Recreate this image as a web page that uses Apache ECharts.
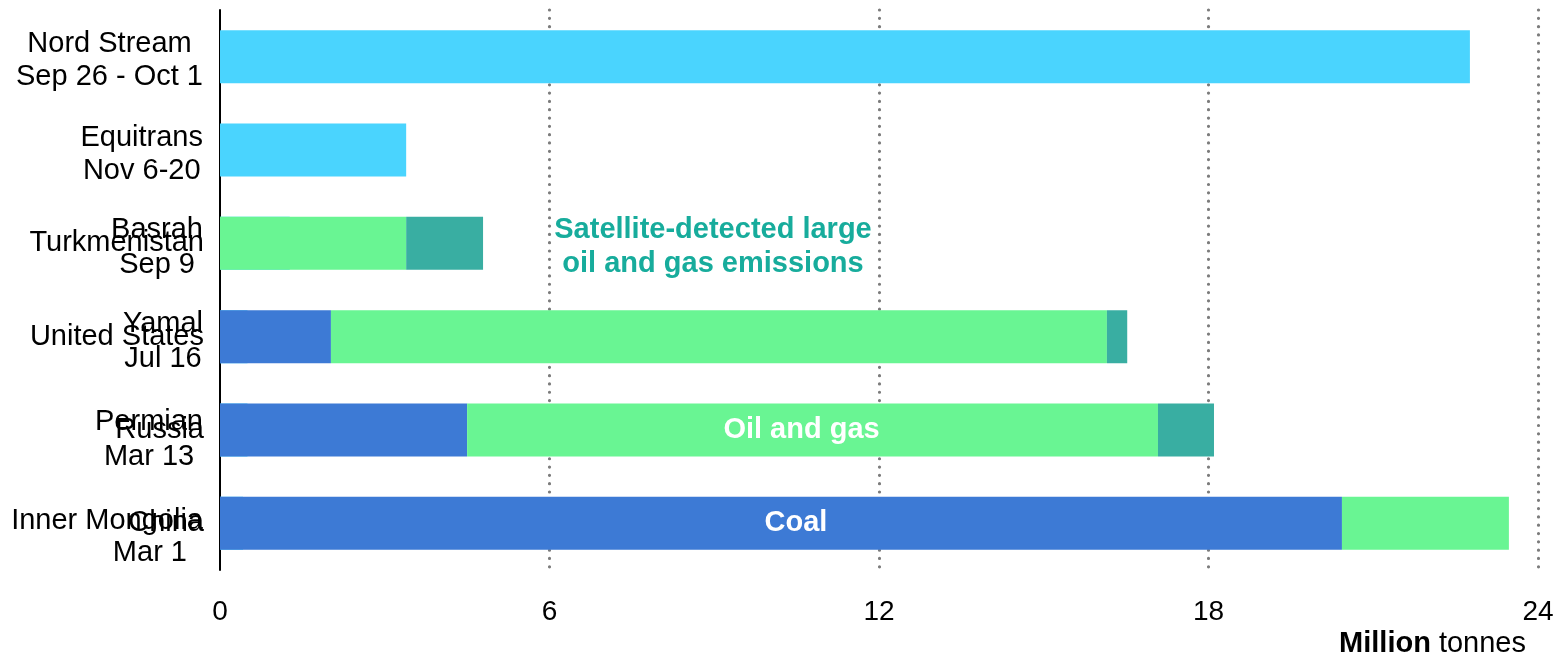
<!DOCTYPE html>
<html>
<head>
<meta charset="utf-8">
<script src="https://cdn.jsdelivr.net/npm/echarts@6/dist/echarts.min.js"></script>
<style>
  html, body { margin: 0; padding: 0; background: #fff; }
  #chart { width: 1559px; height: 656px; }
</style>
</head>
<body>
<div id="chart"></div>
<script>
// Large emission events (million tonnes)
const siteNames = ['Nord Stream', 'Equitrans', 'Basrah', 'Yamal', 'Permian', 'Inner Mongolia'];
const siteDates = ['Sep 26 - Oct 1', 'Nov 6-20', 'Sep 9', 'Jul 16', 'Mar 13', 'Mar 1'];
const siteEmissions = [22.76, 3.39, 1.27, 0.5, 0.5, 0.42];

// Country totals by source (million tonnes), same rows
const countries = ['', '', 'Turkmenistan', 'United States', 'Russia', 'China'];
const coal = [null, null, null, 2.02, 4.5, 20.43];
const oilAndGas = [null, null, 3.39, 14.13, 12.58, 3.04];
const other = [null, null, 1.4, 0.37, 1.02, null];

const xTicks = [0, 6, 12, 18, 24];

const FONT = '"Liberation Sans", Arial, Helvetica, sans-serif';
const COLORS = {
  site: '#4AD4FE',
  coal: '#3D7AD5',
  oilGas: '#69F593',
  other: '#39AEA2',
  note: '#17AC9C'
};

// Line heights of the two lines of each site label (sets spacing and vertical placement)
const siteLineTop = [40.5, 42, 44, 45, 54, 60];
const siteLineBottom = [25.5, 24, 26, 25, 16, 4];
const siteRich = {};
siteNames.forEach((n, i) => {
  siteRich['n' + i] = { align: 'center', lineHeight: siteLineTop[i] };
  siteRich['d' + i] = i === siteNames.length - 1
    ? { align: 'right', padding: [0, 16, 0, 0], lineHeight: siteLineBottom[i] }
    : { align: 'center', lineHeight: siteLineBottom[i] };
});

function withLabel(values, row, text, offset) {
  return values.map((v, i) => i === row
    ? { value: v, label: { show: true, position: 'inside', formatter: text, offset: offset,
        color: '#fff', fontWeight: 'bold', fontSize: 29, fontFamily: FONT } }
    : v);
}

const chart = echarts.init(document.getElementById('chart'), null, { renderer: 'canvas' });

chart.setOption({
  animation: false,
  backgroundColor: '#fff',
  textStyle: { fontFamily: FONT },
  grid: { left: 220, right: 21, top: 10, bottom: 86, containLabel: false },
  xAxis: {
    type: 'value',
    min: xTicks[0],
    max: xTicks[xTicks.length - 1],
    interval: xTicks[1] - xTicks[0],
    axisLine: { show: false },
    axisTick: { show: false },
    axisLabel: { color: '#000', fontSize: 28, fontFamily: FONT, margin: 28 },
    splitLine: {
      show: true,
      showMinLine: false,
      lineStyle: { color: '#7c7c7c', width: 3.2, type: [0.01, 8.3], cap: 'round' }
    }
  },
  yAxis: [
    {
      type: 'category',
      inverse: true,
      data: siteNames,
      axisLine: { show: true, lineStyle: { color: '#000', width: 2 } },
      axisTick: { show: false },
      splitLine: { show: false },
      axisLabel: {
        color: '#000', fontSize: 29, fontFamily: FONT, margin: 17, align: 'right',
        formatter: (v, i) => '{n' + i + '|' + siteNames[i] + '}\n{d' + i + '|' + siteDates[i] + '}',
        rich: siteRich
      }
    },
    {
      type: 'category',
      inverse: true,
      position: 'left',
      data: siteNames,
      axisLine: { show: false },
      axisTick: { show: false },
      splitLine: { show: false },
      axisLabel: {
        color: '#000', fontSize: 29, fontFamily: FONT, margin: 16, align: 'right',
        padding: [0, 0, 6, 0],
        formatter: (v, i) => countries[i]
      }
    }
  ],
  series: [
    {
      name: 'Large emission events',
      type: 'bar',
      yAxisIndex: 0,
      barWidth: 53,
      itemStyle: { color: COLORS.site },
      data: siteEmissions
    },
    {
      name: 'Coal',
      type: 'bar',
      yAxisIndex: 1,
      stack: 'country',
      barWidth: 53,
      itemStyle: { color: COLORS.coal },
      data: withLabel(coal, 5, 'Coal', [15, 0])
    },
    {
      name: 'Oil and gas',
      type: 'bar',
      yAxisIndex: 1,
      stack: 'country',
      barWidth: 53,
      itemStyle: { color: COLORS.oilGas },
      data: withLabel(oilAndGas, 4, 'Oil and gas', [-11, 0])
    },
    {
      name: 'Other',
      type: 'bar',
      yAxisIndex: 1,
      stack: 'country',
      barWidth: 53,
      itemStyle: { color: COLORS.other },
      data: other
    }
  ],
  graphic: [
    {
      type: 'text',
      x: 713, y: 247,
      z: 10,
      style: {
        text: 'Satellite-detected large\noil and gas emissions',
        fill: COLORS.note,
        font: 'bold 29px ' + FONT,
        lineHeight: 34,
        align: 'center',
        verticalAlign: 'middle'
      }
    },
    {
      type: 'text',
      x: 1526, y: 644,
      style: {
        text: '{b|Million} tonnes',
        fill: '#000',
        font: '29px ' + FONT,
        align: 'right',
        verticalAlign: 'middle',
        rich: { b: { fontWeight: 'bold', fontSize: 29, fontFamily: FONT } }
      }
    }
  ]
});
</script>
</body>
</html>
